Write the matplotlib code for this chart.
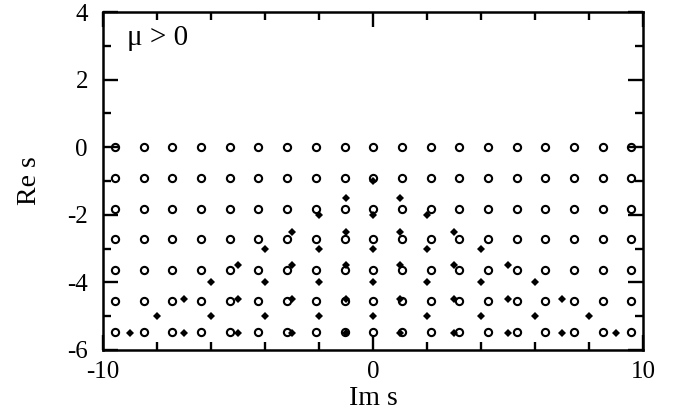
import numpy as np
import matplotlib
matplotlib.use('Agg')
import matplotlib.pyplot as plt
from matplotlib.ticker import MultipleLocator

plt.rcParams['font.family'] = ['Liberation Serif', 'DejaVu Serif']
plt.rcParams['axes.unicode_minus'] = False

# open circles: regular grid
circle_im = [-9.57, -8.5, -7.44, -6.38, -5.32, -4.25, -3.19, -2.13, -1.06, 0.0,
             1.06, 2.13, 3.19, 4.25, 5.32, 6.38, 7.44, 8.5, 9.57]
circle_re = [0.0, -0.91, -1.82, -2.73, -3.64, -4.55, -5.46]

# filled diamonds, one list of Im s values per Re s level
diamond_re = [-1.0, -1.5, -2.0, -2.5, -3.0, -3.5, -4.0, -4.5, -5.0, -5.5]
diamond_im = [
    [0],
    [-1, 1],
    [-2, 0, 2],
    [-3, -1, 1, 3],
    [-4, -2, 0, 2, 4],
    [-5, -3, -1, 1, 3, 5],
    [-6, -4, -2, 0, 2, 4, 6],
    [-7, -5, -3, -1, 1, 3, 5, 7],
    [-8, -6, -4, -2, 0, 2, 4, 6, 8],
    [-9, -7, -5, -3, -1, 1, 3, 5, 7, 9],
]

fig = plt.figure(figsize=(6.79, 4.18), dpi=100)
ax = fig.add_axes([0.152, 0.163, 0.795, 0.808])

cx, cy = np.meshgrid(circle_im, circle_re)
ax.plot(cx.ravel(), cy.ravel(), 'o', ms=5.2, mfc='none', mec='black', mew=1.5, zorder=3)

dx = []
dy = []
for re, row in zip(diamond_re, diamond_im):
    for im in row:
        dx.append(im)
        dy.append(re)
ax.plot(dx, dy, 'D', ms=3.6, color='black', mew=0, zorder=4)

ax.set_xlim(-10, 10)
ax.set_ylim(-6, 4)
ax.xaxis.set_major_locator(MultipleLocator(10))
ax.xaxis.set_minor_locator(MultipleLocator(2))
ax.yaxis.set_major_locator(MultipleLocator(2))
ax.yaxis.set_minor_locator(MultipleLocator(1))
ax.tick_params(which='both', direction='in', top=True, right=True, width=1.7, labelsize=18)
ax.tick_params(axis='x', which='both', pad=8)
ax.tick_params(axis='y', which='both', pad=11)
ax.tick_params(which='major', length=11)
ax.tick_params(which='minor', length=6)
for s in ax.spines.values():
    s.set_linewidth(1.8)

ax.set_xlabel('Im s', fontsize=20, labelpad=2)
ax.set_ylabel('Re s', fontsize=20, labelpad=18)
ax.text(-9.1, 3.22, '\u03bc > 0', fontsize=21, ha='left', va='center')

plt.savefig('out.png', dpi=100)
